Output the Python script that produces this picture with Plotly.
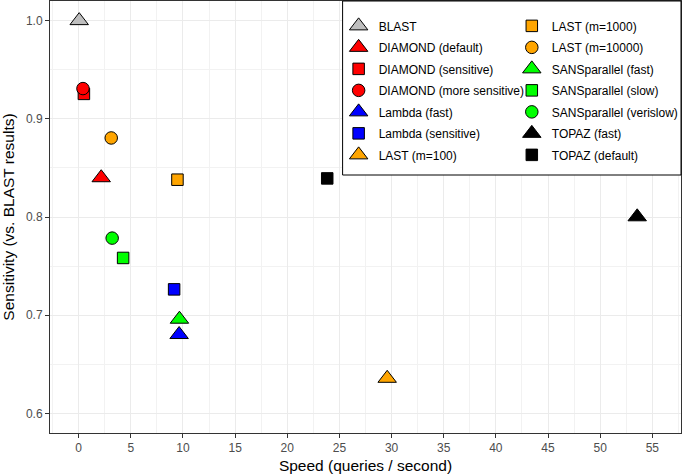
import plotly.graph_objects as go

methods = [
    "BLAST", "DIAMOND (default)", "DIAMOND (sensitive)", "DIAMOND (more sensitive)",
    "Lambda (fast)", "Lambda (sensitive)", "LAST (m=100)", "LAST (m=1000)",
    "LAST (m=10000)", "SANSparallel (fast)", "SANSparallel (slow)",
    "SANSparallel (verislow)", "TOPAZ (fast)", "TOPAZ (default)",
]
speed = [0.05, 2.16, 0.5, 0.41, 9.63, 9.15, 29.58, 9.47, 3.12, 9.66, 4.26, 3.21, 53.55, 23.83]
sensitivity = [1.0, 0.840, 0.9254, 0.9308, 0.6803, 0.7263, 0.6357, 0.838, 0.8805,
               0.6959, 0.7583, 0.7785, 0.8002, 0.8393]
fills = ["#BEBEBE", "#FF0000", "#FF0000", "#FF0000", "#0000FF", "#0000FF",
         "#FFA500", "#FFA500", "#FFA500", "#00FF00", "#00FF00", "#00FF00",
         "#000000", "#000000"]
symbols = ["triangle-up", "triangle-up", "square", "circle", "triangle-up", "square",
           "triangle-up", "square", "circle", "triangle-up", "square", "circle",
           "triangle-up", "square"]
sizes = {"triangle-up": 16, "square": 11.5, "circle": 12.5}

fig = go.Figure()
for i, m in enumerate(methods):
    fig.add_trace(go.Scatter(
        x=[speed[i]], y=[sensitivity[i]], mode="markers", name=m,
        legendgroup=m, legend="legend" if i < 7 else "legend2",
        marker=dict(symbol=symbols[i], size=sizes[symbols[i]], color=fills[i],
                    line=dict(color="#000000", width=1)),
        hoverinfo="name+x+y",
    ))

font = "Liberation Sans, Arial, Helvetica, sans-serif"
axis_common = dict(
    showline=True, mirror=True, linecolor="#333333", linewidth=1,
    ticks="outside", ticklen=4, tickcolor="#333333", tickwidth=1,
    tickfont=dict(family=font, size=12, color="#4D4D4D"),
    showgrid=True, gridcolor="#EBEBEB", gridwidth=1, zeroline=False,
    automargin=False,
)
fig.update_xaxes(range=[-2.75, 57.75], dtick=5, tick0=0,
                 minor=dict(dtick=2.5, showgrid=True, gridcolor="#F2F2F2", gridwidth=0.6),
                 title=dict(text="Speed (queries / second)", standoff=6,
                            font=dict(family=font, size=15.5, color="#000000")),
                 **axis_common)
fig.update_yaxes(range=[0.58, 1.02], dtick=0.1, tick0=0.6, tickformat=".1f",
                 minor=dict(dtick=0.05, showgrid=True, gridcolor="#F2F2F2", gridwidth=0.6),
                 title=dict(text="Sensitivity (vs. BLAST results)", standoff=8,
                            font=dict(family=font, size=15.5, color="#000000")),
                 **axis_common)

leg_common = dict(font=dict(family=font, size=12, color="#000000"),
                  bgcolor="rgba(0,0,0,0)", borderwidth=0, tracegroupgap=2.5,
                  yanchor="top", xanchor="left", y=0.976)
fig.update_layout(
    width=685, height=474,
    margin=dict(l=50, r=1, t=1, b=41),
    paper_bgcolor="white", plot_bgcolor="white",
    font=dict(family=font),
    legend=dict(x=(340 - 50) / 634, **leg_common),
    legend2=dict(x=(514 - 50) / 634, **leg_common),
    shapes=[dict(type="rect", xref="paper", yref="paper",
                 x0=(344 - 50) / 634, x1=1.0, y0=(433 - 175) / 432, y1=1.0,
                 line=dict(color="#000000", width=1), fillcolor="white", layer="above")],
)
fig.write_html("out.html", config={"displayModeBar": False},
               post_script="document.body.style.margin='0';document.body.style.overflow='hidden';")
